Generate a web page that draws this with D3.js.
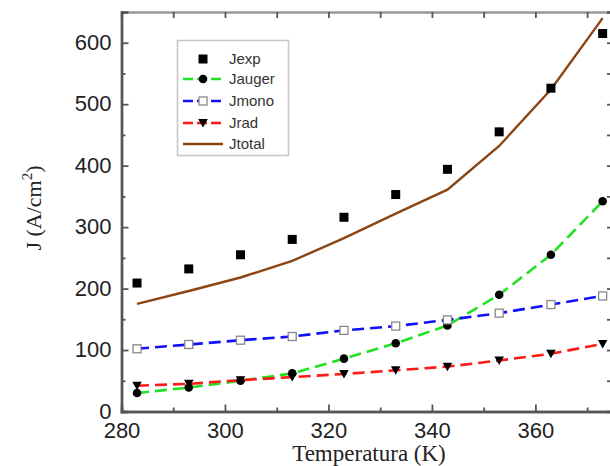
<!DOCTYPE html>
<html>
<head>
<meta charset="utf-8">
<script src="https://cdn.jsdelivr.net/npm/d3@7"></script>
<style>
  html, body { margin: 0; padding: 0; background: #fff; }
  svg { display: block; }
</style>
</head>
<body>
<div id="chart"></div>
<script>
// ---------- data ----------
const temps = [283, 293, 303, 313, 323, 333, 343, 353, 363, 373];
const jExp = [209, 232, 255, 280, 316, 353, 394, 455, 526, 615];
const jAuger = [30, 39, 50, 62, 86, 111, 140, 190, 255, 342];
const jMono = [102, 109, 116, 122, 132, 139, 149, 160, 174, 188];
const jRad = [42, 45, 51, 56, 61, 67, 73, 83, 94, 110];
const jTotal = [175, 196, 218, 245, 282, 322, 361, 432, 524, 640];
const xTicks = [280, 300, 320, 340, 360];
const yTicks = [0, 100, 200, 300, 400, 500, 600];
const legendNames = ['Jexp', 'Jauger', 'Jmono', 'Jrad', 'Jtotal'];

const W = 610, H = 466;
const svg = d3.select('#chart').append('svg')
  .attr('width', W).attr('height', H)
  .attr('viewBox', `0 0 ${W} ${H}`);

const x = d3.scaleLinear().domain([280, 375]).range([121.5, 613]);
const y = d3.scaleLinear().domain([0, 650]).range([411.5, 12]);

const axisColor = '#555';
const tickFont = '"Liberation Sans", Arial, sans-serif';
const titleFont = '"Liberation Serif", "Times New Roman", serif';

// ---------- series ----------
const series = [
  { name: 'Jauger', values: jAuger, color: '#22e022', dash: '12,6', marker: 'circle' },
  { name: 'Jmono', values: jMono, color: '#1010ff', dash: '12,6', marker: 'openSquare' },
  { name: 'Jrad', values: jRad, color: '#ff1a1a', dash: '12,6', marker: 'triangle' },
  { name: 'Jtotal', values: jTotal, color: '#8b4513', dash: null, marker: null },
];

const line = d3.line().x(d => x(d[0])).y(d => y(d[1]));
const plot = svg.append('g');

series.forEach(s => {
  plot.append('path')
    .datum(temps.map((t, i) => [t, s.values[i]]))
    .attr('d', line)
    .attr('fill', 'none')
    .attr('stroke', s.color)
    .attr('stroke-width', s.dash ? 2.6 : 2.4)
    .attr('stroke-dasharray', s.dash);
});

function drawMarker(g, type, cx, cy) {
  if (type === 'square') {
    g.append('rect').attr('x', cx - 4.5).attr('y', cy - 4.5).attr('width', 9).attr('height', 9).attr('fill', '#000');
  } else if (type === 'openSquare') {
    g.append('rect').attr('x', cx - 4).attr('y', cy - 4).attr('width', 8).attr('height', 8)
      .attr('fill', '#fff').attr('stroke', '#888').attr('stroke-width', 1.3);
  } else if (type === 'circle') {
    g.append('circle').attr('cx', cx).attr('cy', cy).attr('r', 4.3).attr('fill', '#000');
  } else if (type === 'triangle') {
    g.append('path').attr('d', `M${cx - 4.8},${cy - 4}L${cx + 4.8},${cy - 4}L${cx},${cy + 4.5}Z`).attr('fill', '#000');
  }
}

const markers = svg.append('g');
series.filter(s => s.marker).forEach(s => {
  temps.forEach((t, i) => drawMarker(markers, s.marker, x(t), y(s.values[i])));
});
temps.forEach((t, i) => drawMarker(markers, 'square', x(t), y(jExp[i])));

// ---------- axes (ticks pointing inward) ----------
const xLeft = x.range()[0], xRight = x.range()[1];
const yBottom = y.range()[0], yTop = y.range()[1];

const axes = svg.append('g');
const axBottom = axes.append('g').attr('transform', `translate(0,${yBottom})`)
  .call(d3.axisBottom(x).tickValues(xTicks).tickSize(-7).tickPadding(14).tickFormat(d3.format('d')));
axes.append('g').attr('transform', `translate(0,${yBottom})`)
  .call(d3.axisBottom(x).tickValues(d3.range(290, 375, 20)).tickSize(-4).tickFormat(''));
const axTop = axes.append('g').attr('transform', `translate(0,${yTop})`)
  .call(d3.axisTop(x).tickValues(d3.range(280, 376, 10)).tickSize(-6).tickFormat(''));
const axLeft = axes.append('g').attr('transform', `translate(${xLeft},0)`)
  .call(d3.axisLeft(y).tickValues(yTicks).tickSize(-7).tickPadding(10).tickFormat(d3.format('d')));
axes.append('g').attr('transform', `translate(${xLeft},0)`)
  .call(d3.axisLeft(y).tickValues(d3.range(50, 650, 100)).tickSize(-4).tickFormat(''));
axes.append('g').attr('transform', `translate(${xRight},0)`)
  .call(d3.axisRight(y).tickValues(d3.range(0, 650, 50)).tickSize(-6).tickFormat(''));

axes.selectAll('.domain').attr('stroke', axisColor).attr('stroke-width', 2.4);
axes.selectAll('.tick line').attr('stroke', axisColor).attr('stroke-width', 1.8);
axes.selectAll('.tick text')
  .attr('fill', '#222')
  .style('font-family', tickFont)
  .style('font-size', '22px');
axBottom.selectAll('.tick text').attr('dy', '0.55em');
axLeft.selectAll('.tick text').attr('dy', '0.3em');
axTop.select('.domain').attr('stroke', '#999');

// ---------- axis titles ----------
svg.append('text')
  .attr('x', 369).attr('y', 461)
  .attr('text-anchor', 'middle')
  .style('font-family', titleFont)
  .style('font-size', '23px')
  .attr('fill', '#222')
  .text('Temperatura (K)');

const yTitle = svg.append('text')
  .attr('transform', 'translate(41,208) rotate(-90)')
  .attr('text-anchor', 'middle')
  .style('font-family', titleFont)
  .style('font-size', '22px')
  .attr('fill', '#222');
yTitle.append('tspan').text('J (A/cm');
yTitle.append('tspan').attr('dy', -9).style('font-size', '15px').text('2');
yTitle.append('tspan').attr('dy', 9).text(')');

// ---------- legend ----------
const legend = svg.append('g');
legend.append('rect')
  .attr('x', 177.5).attr('y', 40.5).attr('width', 111).attr('height', 115)
  .attr('fill', '#fff').attr('stroke', '#c8c8c8').attr('stroke-width', 1.6);

const legendRows = [59, 79, 101, 123, 144];
legendNames.forEach((name, i) => {
  const ly = legendRows[i];
  const s = series.find(d => d.name === name);
  const g = legend.append('g');
  if (s) {
    g.append('line').attr('x1', 183).attr('x2', 223).attr('y1', ly).attr('y2', ly)
      .attr('stroke', s.color).attr('stroke-width', 2.6).attr('stroke-dasharray', s.dash ? '10,4' : null);
    if (s.marker) drawMarker(g, s.marker, 203, ly);
  } else {
    drawMarker(g, 'square', 203, ly);
  }
  g.append('text').attr('x', 229).attr('y', ly).attr('dy', '0.36em')
    .style('font-family', tickFont).style('font-size', '15px').attr('fill', '#333')
    .text(name);
});
</script>
</body>
</html>
